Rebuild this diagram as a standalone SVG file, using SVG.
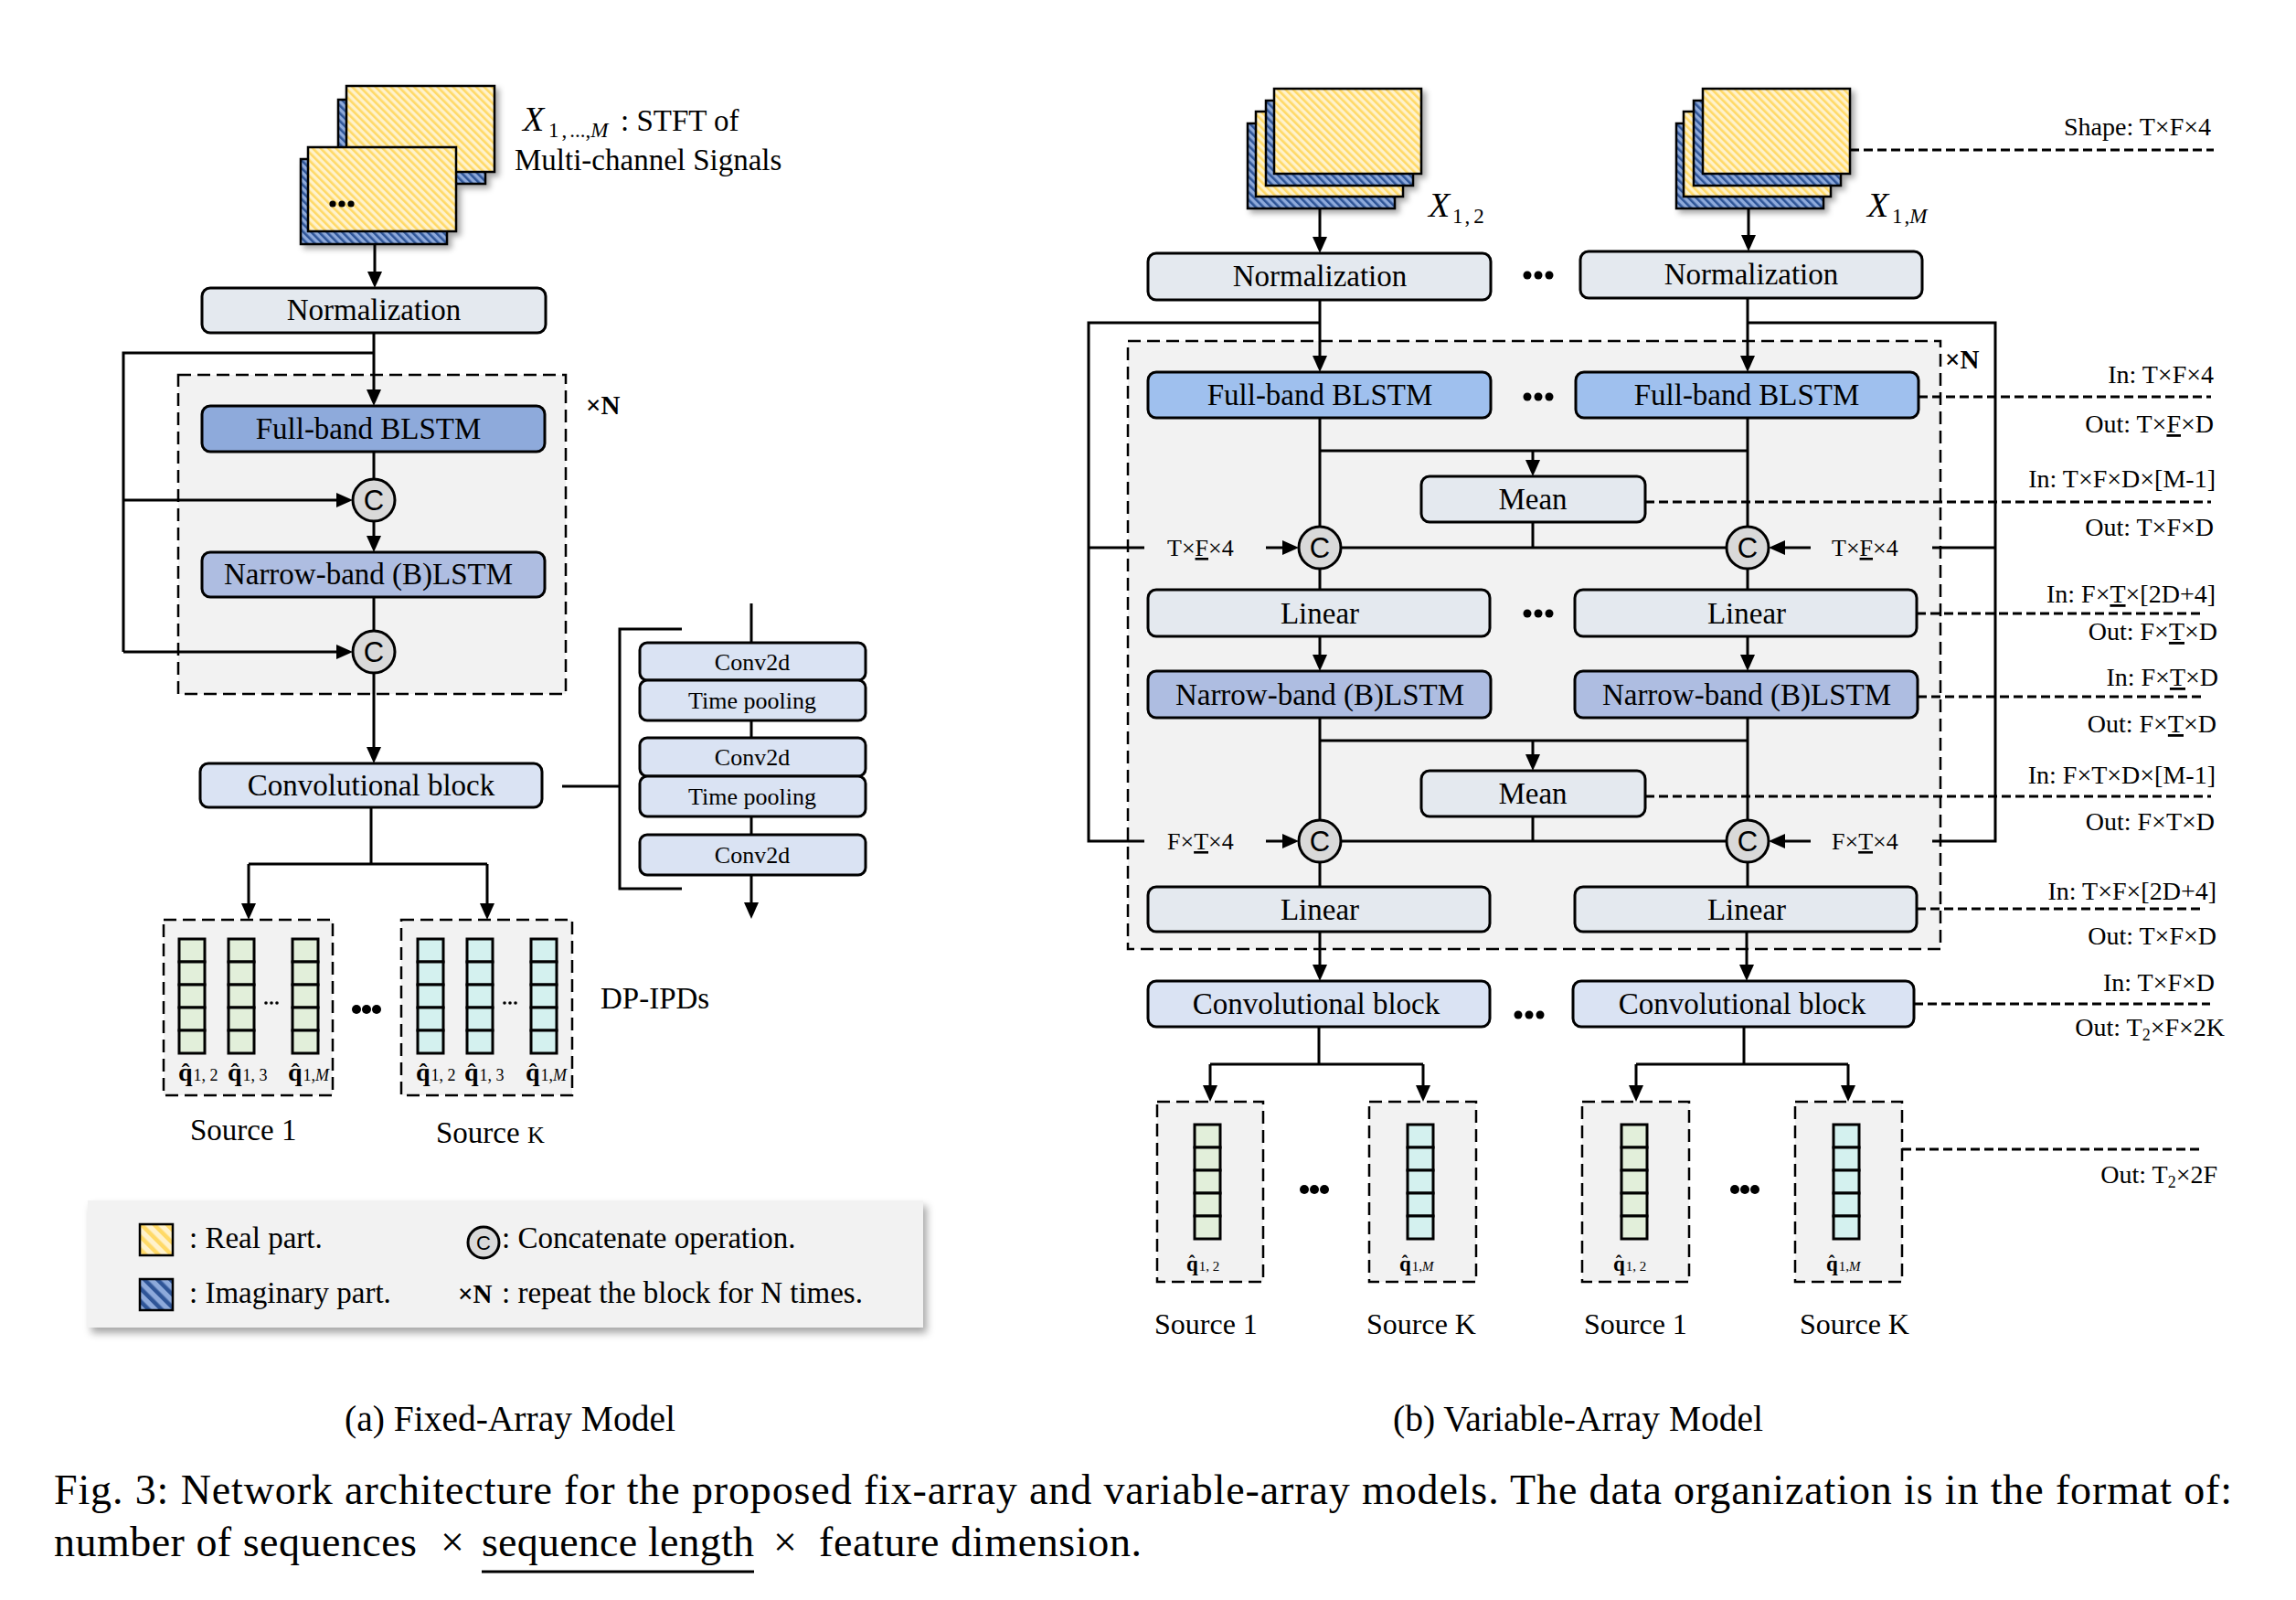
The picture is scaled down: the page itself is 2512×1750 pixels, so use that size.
<svg xmlns="http://www.w3.org/2000/svg" width="2512" height="1750" viewBox="0 0 2512 1750">
<defs>
<style>
text{font-family:"Liberation Serif","Times New Roman",serif;fill:#000}
.t{font-size:33px;text-anchor:middle}
.ts{font-size:26px;text-anchor:middle}
.an{font-size:28px;text-anchor:end}
.io{font-size:26px}
.cap{font-size:39.5px}
.fig{font-size:46px}
.ln{stroke:#000;stroke-width:3;fill:none}
.ar{stroke:#000;stroke-width:3;fill:none;marker-end:url(#ah)}
.da{stroke:#000;stroke-width:3;fill:none;stroke-dasharray:10 5}
.db{fill:#f2f2f2;stroke:#000;stroke-width:2.5;stroke-dasharray:14 7}
.bx{stroke:#000;stroke-width:3}
.st{stroke:#000;stroke-width:2.5}
.g{fill:#e4e9ef}
.fb{fill:#8eaadb}
.fb2{fill:#9fc0ee}
.nb{fill:#aebde1}
.cv{fill:#dae3f3}
.cc{fill:#d9d9d9;stroke:#000;stroke-width:3}
.ct{font-family:"Liberation Sans",Arial,sans-serif;font-size:31px;text-anchor:middle}
.cg{fill:#e2efda;stroke:#000;stroke-width:3}
.cy{fill:#d4f1ef;stroke:#000;stroke-width:3}
.u{text-decoration:underline}
.qb{font-weight:bold}
.hat{font-weight:bold;text-anchor:middle}
</style>
<marker id="ah" markerUnits="userSpaceOnUse" markerWidth="18" markerHeight="16" viewBox="0 0 18 16" refX="10" refY="8" orient="auto"><path d="M0,0 L18,8 L0,16 z" fill="#000"/></marker>
<pattern id="py" patternUnits="userSpaceOnUse" width="6" height="6" patternTransform="rotate(-45)"><rect width="6" height="6" fill="#fff2cc"/><rect width="2.6" height="6" fill="#ffd966"/></pattern>
<pattern id="pb" patternUnits="userSpaceOnUse" width="6" height="6" patternTransform="rotate(-45)"><rect width="6" height="6" fill="#8eaadb"/><rect width="2.6" height="6" fill="#2f5597"/></pattern>
<pattern id="py2" patternUnits="userSpaceOnUse" width="10" height="10" patternTransform="rotate(-45)"><rect width="10" height="10" fill="#fff2cc"/><rect width="4.5" height="10" fill="#ffd966"/></pattern>
<pattern id="pb2" patternUnits="userSpaceOnUse" width="10" height="10" patternTransform="rotate(-45)"><rect width="10" height="10" fill="#8eaadb"/><rect width="4.5" height="10" fill="#2f5597"/></pattern>
<filter id="sh" x="-10%" y="-10%" width="130%" height="130%"><feDropShadow dx="4" dy="4" stdDeviation="3" flood-color="#000" flood-opacity="0.35"/></filter>
<filter id="sh2" x="-5%" y="-10%" width="110%" height="130%"><feDropShadow dx="4" dy="6" stdDeviation="4" flood-color="#000" flood-opacity="0.35"/></filter>
<g id="colG"><rect class="cg" x="0" y="0" width="28" height="25"/><rect class="cg" x="0" y="25" width="28" height="25"/><rect class="cg" x="0" y="50" width="28" height="25"/><rect class="cg" x="0" y="75" width="28" height="25"/><rect class="cg" x="0" y="100" width="28" height="25"/></g>
<g id="colC"><rect class="cy" x="0" y="0" width="28" height="25"/><rect class="cy" x="0" y="25" width="28" height="25"/><rect class="cy" x="0" y="50" width="28" height="25"/><rect class="cy" x="0" y="75" width="28" height="25"/><rect class="cy" x="0" y="100" width="28" height="25"/></g>
</defs>
<rect width="2512" height="1750" fill="#fff"/>

<!-- ================= PANEL (a) ================= -->
<g id="a-repeat-box"><rect class="db" x="195" y="410" width="424" height="349"/></g>

<g id="a-input">
<g filter="url(#sh)">
<rect x="370" y="109" width="161" height="92" fill="url(#pb)" class="st"/>
<rect x="379" y="94" width="162" height="94" fill="url(#py)" class="st"/>
<rect x="329" y="174" width="160" height="93" fill="url(#pb)" class="st"/>
<rect x="337" y="161" width="162" height="92" fill="url(#py)" class="st"/>
</g>
<circle cx="364" cy="223" r="3.6"/><circle cx="374" cy="223" r="3.6"/><circle cx="384" cy="223" r="3.6"/>
<text x="572" y="143" font-size="38" font-style="italic">X</text>
<text x="600" y="150" font-size="23">1<tspan dx="3">,</tspan><tspan dx="3">...,</tspan><tspan font-style="italic">M</tspan></text>
<text x="679" y="143" font-size="33">: STFT of</text>
<text x="563" y="186" font-size="33">Multi-channel Signals</text>
</g>

<g id="a-norm"><rect class="bx g" x="221" y="315" width="376" height="49" rx="9"/><text class="t" x="409" y="350">Normalization</text></g>
<g id="a-fullband"><rect class="bx fb" x="221" y="444" width="375" height="50" rx="9"/><text class="t" x="403" y="480">Full-band BLSTM</text></g>
<g id="a-c1"><circle class="cc" cx="409" cy="547" r="23"/><text class="ct" x="409" y="558">C</text></g>
<g id="a-narrow"><rect class="bx nb" x="221" y="604" width="375" height="49" rx="9"/><text class="t" x="403" y="639">Narrow-band (B)LSTM</text></g>
<g id="a-c2"><circle class="cc" cx="409" cy="713" r="23"/><text class="ct" x="409" y="724">C</text></g>
<g id="a-xn"><text x="641" y="453" font-size="29" font-weight="bold">×N</text></g>
<g id="a-conv"><rect class="bx cv" x="219" y="835" width="374" height="48" rx="9"/><text class="t" x="406" y="870">Convolutional block</text></g>

<g id="a-convdetail">
<rect class="bx cv" x="700" y="703" width="247" height="41" rx="8"/><text class="ts" x="823" y="733">Conv2d</text>
<rect class="bx cv" x="700" y="744" width="247" height="44" rx="8"/><text class="ts" x="823" y="775">Time pooling</text>
<rect class="bx cv" x="700" y="807" width="247" height="42" rx="8"/><text class="ts" x="823" y="837">Conv2d</text>
<rect class="bx cv" x="700" y="849" width="247" height="44" rx="8"/><text class="ts" x="823" y="880">Time pooling</text>
<rect class="bx cv" x="700" y="913" width="247" height="44" rx="8"/><text class="ts" x="823" y="944">Conv2d</text>
</g>

<g id="a-src1">
<rect class="db" x="179" y="1006" width="185" height="192"/>
<use href="#colG" x="196" y="1027"/><use href="#colG" x="250" y="1027"/><use href="#colG" x="320" y="1027"/>
<circle cx="291" cy="1097" r="1.8"/><circle cx="297" cy="1097" r="1.8"/><circle cx="303" cy="1097" r="1.8"/>
<text x="195" y="1182" font-size="28"><tspan class="qb">q</tspan><tspan font-size="18" dx="1">1, 2</tspan></text><text class="hat" x="203" y="1181" font-size="26">ˆ</text>
<text x="249" y="1182" font-size="28"><tspan class="qb">q</tspan><tspan font-size="18" dx="1">1, 3</tspan></text><text class="hat" x="257" y="1181" font-size="26">ˆ</text>
<text x="315" y="1182" font-size="28"><tspan class="qb">q</tspan><tspan font-size="18" dx="1">1,</tspan><tspan font-size="18" font-style="italic">M</tspan></text><text class="hat" x="323" y="1181" font-size="26">ˆ</text>
<text x="208" y="1247" font-size="33">Source 1</text>
</g>
<g id="a-srcK">
<rect class="db" x="439" y="1006" width="187" height="192"/>
<use href="#colC" x="457" y="1027"/><use href="#colC" x="511" y="1027"/><use href="#colC" x="581" y="1027"/>
<circle cx="552" cy="1097" r="1.8"/><circle cx="558" cy="1097" r="1.8"/><circle cx="564" cy="1097" r="1.8"/>
<text x="455" y="1182" font-size="28"><tspan class="qb">q</tspan><tspan font-size="18" dx="1">1, 2</tspan></text><text class="hat" x="463" y="1181" font-size="26">ˆ</text>
<text x="508" y="1182" font-size="28"><tspan class="qb">q</tspan><tspan font-size="18" dx="1">1, 3</tspan></text><text class="hat" x="516" y="1181" font-size="26">ˆ</text>
<text x="575" y="1182" font-size="28"><tspan class="qb">q</tspan><tspan font-size="18" dx="1">1,</tspan><tspan font-size="18" font-style="italic">M</tspan></text><text class="hat" x="583" y="1181" font-size="26">ˆ</text>
<text x="477" y="1250" font-size="33">Source <tspan font-size="26">K</tspan></text>
</g>
<g id="a-dots"><circle cx="390" cy="1104" r="5"/><circle cx="401" cy="1104" r="5"/><circle cx="412" cy="1104" r="5"/></g>
<g id="a-dpipd"><text x="657" y="1103" font-size="33">DP-IPDs</text></g>

<g id="legend">
<rect x="96" y="1313" width="914" height="139" fill="#f2f2f2" filter="url(#sh2)"/>
<rect x="153" y="1339" width="36" height="34" fill="url(#py2)" class="st"/>
<text x="207" y="1365" font-size="33">: Real part.</text>
<rect x="153" y="1399" width="36" height="34" fill="url(#pb2)" class="st"/>
<text x="207" y="1425" font-size="33">: Imaginary part.</text>
<circle class="cc" cx="529" cy="1359" r="17"/><text class="ct" x="529" y="1367" font-size="22px" style="font-size:22px">C</text>
<text x="549" y="1365" font-size="33">: Concatenate operation.</text>
<text x="501" y="1425" font-size="29" font-weight="bold">×N</text>
<text x="549" y="1425" font-size="33">: repeat the block for N times.</text>
</g>

<!-- ================= PANEL (b) ================= -->
<g id="b-repeat-box"><rect class="db" x="1234" y="373" width="889" height="665"/></g>

<g id="b-input1">
<g filter="url(#sh)">
<rect x="1365" y="135" width="161" height="93" fill="url(#pb)" class="st"/>
<rect x="1374" y="122" width="161" height="93" fill="url(#py)" class="st"/>
<rect x="1385" y="110" width="161" height="93" fill="url(#pb)" class="st"/>
<rect x="1394" y="97" width="161" height="93" fill="url(#py)" class="st"/>
</g>
<text x="1563" y="237" font-size="38" font-style="italic">X</text>
<text x="1589" y="244" font-size="23">1<tspan dx="2">,</tspan><tspan dx="4">2</tspan></text>
</g>
<g id="b-inputM">
<g filter="url(#sh)">
<rect x="1834" y="135" width="161" height="93" fill="url(#pb)" class="st"/>
<rect x="1842" y="122" width="161" height="93" fill="url(#py)" class="st"/>
<rect x="1853" y="110" width="161" height="93" fill="url(#pb)" class="st"/>
<rect x="1863" y="97" width="161" height="93" fill="url(#py)" class="st"/>
</g>
<text x="2043" y="237" font-size="38" font-style="italic">X</text>
<text x="2070" y="244" font-size="23">1<tspan dx="2">,</tspan><tspan font-style="italic">M</tspan></text>
</g>

<g id="b-norm1"><rect class="bx g" x="1256" y="277" width="375" height="51" rx="9"/><text class="t" x="1444" y="313">Normalization</text></g>
<g id="b-norm2"><rect class="bx g" x="1729" y="275" width="374" height="51" rx="9"/><text class="t" x="1916" y="311">Normalization</text></g>
<g id="b-fb1"><rect class="bx fb2" x="1256" y="407" width="375" height="50" rx="9"/><text class="t" x="1444" y="443">Full-band BLSTM</text></g>
<g id="b-fb2"><rect class="bx fb2" x="1724" y="407" width="375" height="50" rx="9"/><text class="t" x="1911" y="443">Full-band BLSTM</text></g>
<g id="b-mean1"><rect class="bx g" x="1555" y="521" width="245" height="50" rx="9"/><text class="t" x="1677" y="557">Mean</text></g>
<g id="b-c1l"><circle class="cc" cx="1444" cy="599" r="23"/><text class="ct" x="1444" y="610">C</text></g>
<g id="b-c1r"><circle class="cc" cx="1912" cy="599" r="23"/><text class="ct" x="1912" y="610">C</text></g>
<g id="b-lin1l"><rect class="bx g" x="1256" y="645" width="374" height="51" rx="9"/><text class="t" x="1444" y="682">Linear</text></g>
<g id="b-lin1r"><rect class="bx g" x="1723" y="645" width="374" height="51" rx="9"/><text class="t" x="1911" y="682">Linear</text></g>
<g id="b-nb1"><rect class="bx nb" x="1256" y="734" width="375" height="51" rx="9"/><text class="t" x="1444" y="771">Narrow-band (B)LSTM</text></g>
<g id="b-nb2"><rect class="bx nb" x="1723" y="734" width="375" height="51" rx="9"/><text class="t" x="1911" y="771">Narrow-band (B)LSTM</text></g>
<g id="b-mean2"><rect class="bx g" x="1555" y="843" width="245" height="50" rx="9"/><text class="t" x="1677" y="879">Mean</text></g>
<g id="b-c2l"><circle class="cc" cx="1444" cy="920" r="23"/><text class="ct" x="1444" y="931">C</text></g>
<g id="b-c2r"><circle class="cc" cx="1912" cy="920" r="23"/><text class="ct" x="1912" y="931">C</text></g>
<g id="b-lin2l"><rect class="bx g" x="1256" y="970" width="374" height="49" rx="9"/><text class="t" x="1444" y="1006">Linear</text></g>
<g id="b-lin2r"><rect class="bx g" x="1723" y="970" width="374" height="49" rx="9"/><text class="t" x="1911" y="1006">Linear</text></g>
<g id="b-conv1"><rect class="bx cv" x="1256" y="1073" width="374" height="50" rx="9"/><text class="t" x="1440" y="1109">Convolutional block</text></g>
<g id="b-conv2"><rect class="bx cv" x="1721" y="1073" width="373" height="50" rx="9"/><text class="t" x="1906" y="1109">Convolutional block</text></g>
<g id="b-xn"><text x="2128" y="403" font-size="29" font-weight="bold">×N</text></g>

<g id="b-iolabels">
<text class="io" x="1277" y="608">T×<tspan class="u">F</tspan>×4</text>
<text class="io" x="2004" y="608">T×<tspan class="u">F</tspan>×4</text>
<text class="io" x="1277" y="929">F×<tspan class="u">T</tspan>×4</text>
<text class="io" x="2004" y="929">F×<tspan class="u">T</tspan>×4</text>
</g>

<g id="b-dots">
<circle cx="1671" cy="301" r="4.5"/><circle cx="1683" cy="301" r="4.5"/><circle cx="1695" cy="301" r="4.5"/>
<circle cx="1671" cy="434" r="4.5"/><circle cx="1683" cy="434" r="4.5"/><circle cx="1695" cy="434" r="4.5"/>
<circle cx="1671" cy="671" r="4.5"/><circle cx="1683" cy="671" r="4.5"/><circle cx="1695" cy="671" r="4.5"/>
<circle cx="1661" cy="1110" r="4.5"/><circle cx="1673" cy="1110" r="4.5"/><circle cx="1685" cy="1110" r="4.5"/>
<circle cx="1427" cy="1301" r="5"/><circle cx="1438" cy="1301" r="5"/><circle cx="1449" cy="1301" r="5"/>
<circle cx="1898" cy="1301" r="5"/><circle cx="1909" cy="1301" r="5"/><circle cx="1920" cy="1301" r="5"/>
</g>

<g id="b-src1a">
<rect class="db" x="1266" y="1205" width="116" height="197"/><use href="#colG" x="1307" y="1230"/>
<text x="1298" y="1390" font-size="23"><tspan class="qb">q</tspan><tspan font-size="15" dx="1">1, 2</tspan></text><text class="hat" x="1304" y="1388" font-size="20">ˆ</text>
<text x="1263" y="1459" font-size="32">Source 1</text>
</g>
<g id="b-srcKa">
<rect class="db" x="1498" y="1205" width="117" height="197"/><use href="#colC" x="1540" y="1230"/>
<text x="1531" y="1390" font-size="23"><tspan class="qb">q</tspan><tspan font-size="15" dx="1">1,</tspan><tspan font-size="15" font-style="italic">M</tspan></text><text class="hat" x="1537" y="1388" font-size="20">ˆ</text>
<text x="1495" y="1459" font-size="32">Source K</text>
</g>
<g id="b-src1b">
<rect class="db" x="1731" y="1205" width="117" height="197"/><use href="#colG" x="1774" y="1230"/>
<text x="1765" y="1390" font-size="23"><tspan class="qb">q</tspan><tspan font-size="15" dx="1">1, 2</tspan></text><text class="hat" x="1771" y="1388" font-size="20">ˆ</text>
<text x="1733" y="1459" font-size="32">Source 1</text>
</g>
<g id="b-srcKb">
<rect class="db" x="1964" y="1205" width="117" height="197"/><use href="#colC" x="2006" y="1230"/>
<text x="1998" y="1390" font-size="23"><tspan class="qb">q</tspan><tspan font-size="15" dx="1">1,</tspan><tspan font-size="15" font-style="italic">M</tspan></text><text class="hat" x="2004" y="1388" font-size="20">ˆ</text>
<text x="1969" y="1459" font-size="32">Source K</text>
</g>

<g id="b-annotations">
<text class="an" x="2419" y="148">Shape: T×F×4</text>
<text class="an" x="2422" y="419">In: T×F×4</text>
<text class="an" x="2422" y="473">Out: T×<tspan class="u">F</tspan>×D</text>
<text class="an" x="2424" y="533">In: T×F×D×[M-1]</text>
<text class="an" x="2422" y="586">Out: T×F×D</text>
<text class="an" x="2424" y="659">In: F×<tspan class="u">T</tspan>×[2D+4]</text>
<text class="an" x="2426" y="700">Out: F×<tspan class="u">T</tspan>×D</text>
<text class="an" x="2427" y="750">In: F×<tspan class="u">T</tspan>×D</text>
<text class="an" x="2425" y="801">Out: F×<tspan class="u">T</tspan>×D</text>
<text class="an" x="2424" y="857">In: F×T×D×[M-1]</text>
<text class="an" x="2423" y="908">Out: F×T×D</text>
<text class="an" x="2425" y="984">In: T×F×[2D+4]</text>
<text class="an" x="2425" y="1033">Out: T×F×D</text>
<text class="an" x="2423" y="1084">In: T×F×D</text>
<text class="an" x="2434" y="1133">Out: T<tspan font-size="18" dy="5">2</tspan><tspan dy="-5">×F×2K</tspan></text>
<text class="an" x="2426" y="1294">Out: T<tspan font-size="18" dy="5">2</tspan><tspan dy="-5">×2F</tspan></text>
</g>

<g id="captions">
<text class="cap" x="377" y="1565">(a) Fixed-Array Model</text>
<text class="cap" x="1524" y="1565">(b) Variable-Array Model</text>
<text class="fig" x="59" y="1645" textLength="2383" lengthAdjust="spacing">Fig. 3: Network architecture for the proposed fix-array and variable-array models. The data organization is in the format of:</text>
<text class="fig" x="59" y="1702" textLength="397" lengthAdjust="spacing">number of sequences</text>
<text class="fig" x="495" y="1702" text-anchor="middle">×</text>
<text class="fig" x="527" y="1702" textLength="298" lengthAdjust="spacing">sequence length</text>
<text class="fig" x="859" y="1702" text-anchor="middle">×</text>
<text class="fig" x="896" y="1702" textLength="353" lengthAdjust="spacing">feature dimension.</text>
<line class="ln" x1="527" y1="1719" x2="825" y2="1719"/>
</g>

<!-- ================= CONNECTORS ================= -->
<g id="connectors">
<!-- panel a -->
<line class="ar" x1="410" y1="267" x2="410" y2="307"/>
<line class="ar" x1="409" y1="364" x2="409" y2="436"/>
<polyline class="ln" points="409,386 135,386 135,713"/>
<line class="ar" x1="135" y1="547" x2="378" y2="547"/>
<line class="ar" x1="135" y1="713" x2="378" y2="713"/>
<line class="ln" x1="409" y1="494" x2="409" y2="524"/>
<line class="ar" x1="409" y1="570" x2="409" y2="596"/>
<line class="ln" x1="409" y1="653" x2="409" y2="690"/>
<line class="ar" x1="409" y1="736" x2="409" y2="827"/>
<line class="ln" x1="406" y1="883" x2="406" y2="945"/>
<line class="ln" x1="272" y1="945" x2="533" y2="945"/>
<line class="ar" x1="272" y1="945" x2="272" y2="998"/>
<line class="ar" x1="533" y1="945" x2="533" y2="998"/>
<line class="ln" x1="615" y1="860" x2="678" y2="860"/>
<polyline class="ln" points="746,688 678,688 678,972 746,972"/>
<line class="ln" x1="822" y1="660" x2="822" y2="703"/>
<line class="ln" x1="822" y1="788" x2="822" y2="807"/>
<line class="ln" x1="822" y1="893" x2="822" y2="913"/>
<line class="ar" x1="822" y1="957" x2="822" y2="997"/>
<!-- panel b -->
<line class="ar" x1="1444" y1="228" x2="1444" y2="269"/>
<line class="ar" x1="1913" y1="228" x2="1913" y2="267"/>
<line class="ar" x1="1444" y1="328" x2="1444" y2="399"/>
<line class="ar" x1="1912" y1="326" x2="1912" y2="399"/>
<polyline class="ln" points="1444,353 1191,353 1191,920 1252,920"/>
<line class="ln" x1="1191" y1="599" x2="1252" y2="599"/>
<polyline class="ln" points="1912,353 2183,353 2183,920 2114,920"/>
<line class="ln" x1="2114" y1="599" x2="2183" y2="599"/>
<line class="ln" x1="1444" y1="457" x2="1444" y2="576"/>
<line class="ln" x1="1912" y1="457" x2="1912" y2="576"/>
<line class="ln" x1="1444" y1="493" x2="1912" y2="493"/>
<line class="ar" x1="1677" y1="493" x2="1677" y2="513"/>
<line class="ln" x1="1677" y1="571" x2="1677" y2="599"/>
<line class="ln" x1="1467" y1="599" x2="1889" y2="599"/>
<line class="ar" x1="1385" y1="599" x2="1413" y2="599"/>
<line class="ar" x1="1981" y1="599" x2="1943" y2="599"/>
<line class="ln" x1="1444" y1="622" x2="1444" y2="645"/>
<line class="ln" x1="1912" y1="622" x2="1912" y2="645"/>
<line class="ar" x1="1444" y1="696" x2="1444" y2="726"/>
<line class="ar" x1="1912" y1="696" x2="1912" y2="726"/>
<line class="ln" x1="1444" y1="785" x2="1444" y2="897"/>
<line class="ln" x1="1912" y1="785" x2="1912" y2="897"/>
<line class="ln" x1="1444" y1="810" x2="1912" y2="810"/>
<line class="ar" x1="1677" y1="810" x2="1677" y2="835"/>
<line class="ln" x1="1677" y1="893" x2="1677" y2="920"/>
<line class="ln" x1="1467" y1="920" x2="1889" y2="920"/>
<line class="ar" x1="1385" y1="920" x2="1413" y2="920"/>
<line class="ar" x1="1981" y1="920" x2="1943" y2="920"/>
<line class="ln" x1="1444" y1="943" x2="1444" y2="970"/>
<line class="ln" x1="1912" y1="943" x2="1912" y2="970"/>
<line class="ar" x1="1444" y1="1019" x2="1444" y2="1065"/>
<line class="ar" x1="1911" y1="1019" x2="1911" y2="1065"/>
<line class="ln" x1="1443" y1="1123" x2="1443" y2="1164"/>
<line class="ln" x1="1324" y1="1164" x2="1557" y2="1164"/>
<line class="ar" x1="1324" y1="1164" x2="1324" y2="1197"/>
<line class="ar" x1="1557" y1="1164" x2="1557" y2="1197"/>
<line class="ln" x1="1908" y1="1123" x2="1908" y2="1164"/>
<line class="ln" x1="1790" y1="1164" x2="2022" y2="1164"/>
<line class="ar" x1="1790" y1="1164" x2="1790" y2="1197"/>
<line class="ar" x1="2022" y1="1164" x2="2022" y2="1197"/>
<!-- annotation leaders -->
<line class="da" x1="2024" y1="164" x2="2422" y2="164"/>
<line class="da" x1="2099" y1="434" x2="2419" y2="434"/>
<line class="da" x1="1800" y1="549" x2="2419" y2="549"/>
<line class="da" x1="2097" y1="671" x2="2409" y2="671"/>
<line class="da" x1="2098" y1="762" x2="2409" y2="762"/>
<line class="da" x1="1800" y1="871" x2="2419" y2="871"/>
<line class="da" x1="2097" y1="994" x2="2409" y2="994"/>
<line class="da" x1="2094" y1="1098" x2="2418" y2="1098"/>
<line class="da" x1="2081" y1="1257" x2="2410" y2="1257"/>
</g>
</svg>
